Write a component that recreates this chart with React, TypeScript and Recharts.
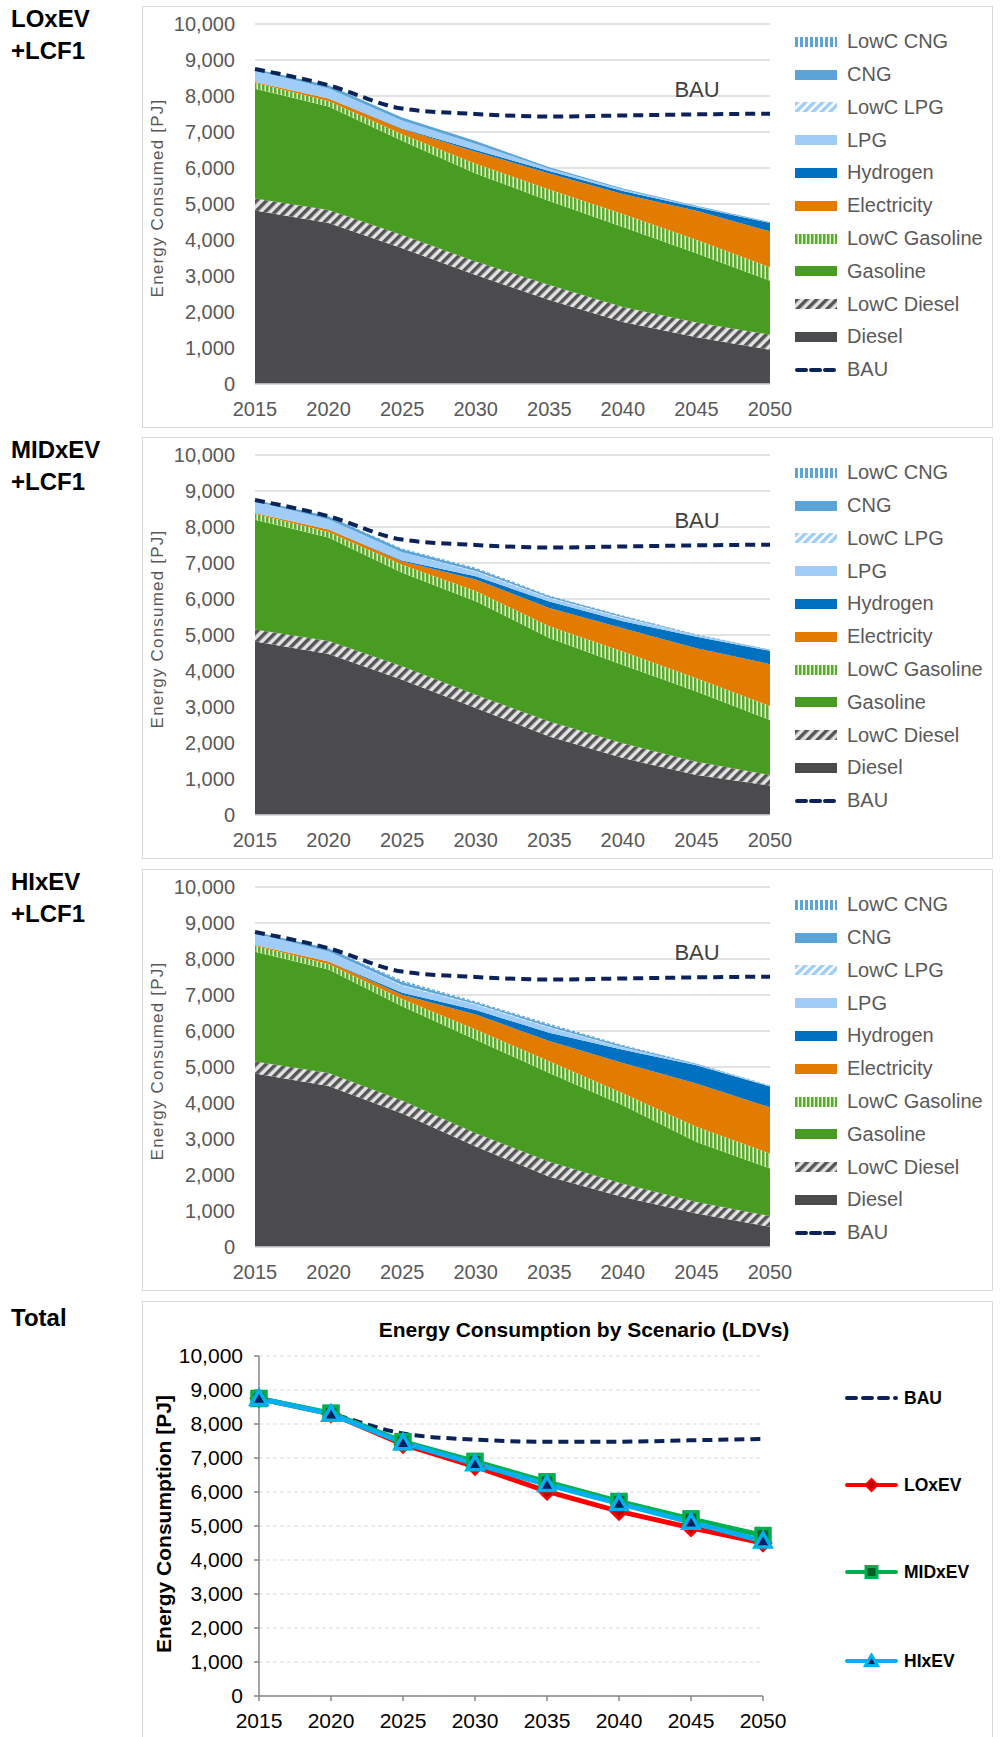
import { ComposedChart, LineChart, Line, Area, XAxis, YAxis, CartesianGrid } from "recharts";

const years = ["2015", "2020", "2025", "2030", "2035", "2040", "2045", "2050"];
const yTicks = [0, 1000, 2000, 3000, 4000, 5000, 6000, 7000, 8000, 9000, 10000];

const bau = [8750, 8300, 7650, 7500, 7430, 7460, 7490, 7510];

// LOxEV +LCF1
const loDiesel = [4820, 4470, 3770, 3030, 2330, 1720, 1300, 950];
const loLowcDiesel = [330, 360, 370, 370, 420, 420, 410, 420];
const loGasoline = [3050, 2880, 2620, 2450, 2330, 2220, 1920, 1500];
const loLowcGasoline = [170, 150, 180, 270, 320, 360, 380, 370];
const loElectricity = [20, 70, 140, 330, 450, 560, 800, 1000];
const loHydrogen = [0, 0, 20, 50, 70, 80, 100, 230];
const loLpg = [320, 280, 220, 170, 60, 40, 20, 10];
const loLowcLpg = [0, 0, 0, 0, 0, 0, 0, 0];
const loCng = [40, 90, 80, 80, 40, 30, 20, 20];
const loLowcCng = [0, 0, 0, 0, 0, 0, 0, 0];

// MIDxEV +LCF1
const midDiesel = [4820, 4470, 3760, 2970, 2180, 1580, 1110, 820];
const midLowcDiesel = [330, 360, 370, 370, 420, 410, 370, 290];
const midGasoline = [3050, 2880, 2600, 2600, 2320, 2180, 1950, 1530];
const midLowcGasoline = [170, 150, 220, 280, 320, 370, 370, 390];
const midElectricity = [20, 70, 100, 320, 510, 650, 830, 1160];
const midHydrogen = [0, 0, 20, 90, 180, 190, 320, 370];
const midLpg = [320, 280, 230, 130, 90, 90, 40, 20];
const midLowcLpg = [0, 0, 0, 20, 20, 20, 0, 0];
const midCng = [40, 90, 80, 60, 40, 40, 20, 10];
const midLowcCng = [0, 0, 20, 30, 20, 10, 10, 10];

// HIxEV +LCF1
const hiDiesel = [4820, 4470, 3710, 2790, 1950, 1390, 930, 560];
const hiLowcDiesel = [330, 360, 360, 370, 420, 370, 320, 300];
const hiGasoline = [3050, 2880, 2620, 2600, 2460, 2180, 1670, 1320];
const hiLowcGasoline = [170, 150, 200, 280, 330, 330, 420, 420];
const hiElectricity = [20, 70, 120, 420, 560, 840, 1200, 1280];
const hiHydrogen = [0, 0, 50, 120, 230, 370, 510, 580];
const hiLpg = [320, 280, 200, 150, 140, 60, 20, 10];
const hiLowcLpg = [0, 0, 20, 20, 20, 10, 0, 0];
const hiCng = [40, 90, 80, 40, 60, 40, 20, 10];
const hiLowcCng = [0, 0, 40, 30, 30, 20, 10, 10];

// Total by scenario
const totBau = [8750, 8300, 7720, 7540, 7480, 7480, 7520, 7560];
const totLo = [8750, 8300, 7400, 6750, 6020, 5430, 4950, 4500];
const totMid = [8750, 8320, 7480, 6900, 6300, 5720, 5210, 4720];
const totHi = [8750, 8290, 7450, 6830, 6220, 5660, 5110, 4560];

const FONT = "'Liberation Sans', Arial, sans-serif";

const fuels = [
  { key: "diesel", name: "Diesel", fill: "#4b4b4d", pat: null },
  { key: "lowcDiesel", name: "LowC Diesel", fill: "#4b4b4d", pat: "hatch" },
  { key: "gasoline", name: "Gasoline", fill: "#489c22", pat: null },
  { key: "lowcGasoline", name: "LowC Gasoline", fill: "#489c22", pat: "gstripe" },
  { key: "electricity", name: "Electricity", fill: "#e27c00", pat: null },
  { key: "hydrogen", name: "Hydrogen", fill: "#0070c0", pat: null },
  { key: "lpg", name: "LPG", fill: "#9fcdf7", pat: null },
  { key: "lowcLpg", name: "LowC LPG", fill: "#9fcdf7", pat: "lpgstripe" },
  { key: "cng", name: "CNG", fill: "#5ba4d8", pat: null },
  { key: "lowcCng", name: "LowC CNG", fill: "#5ba4d8", pat: "cngstripe" },
];

function buildRows(d: number[][]) {
  return years.map((year, i) => ({
    year,
    diesel: d[0][i],
    lowcDiesel: d[1][i],
    gasoline: d[2][i],
    lowcGasoline: d[3][i],
    electricity: d[4][i],
    hydrogen: d[5][i],
    lpg: d[6][i],
    lowcLpg: d[7][i],
    cng: d[8][i],
    lowcCng: d[9][i],
    bau: bau[i],
  }));
}

const loRows = buildRows([loDiesel, loLowcDiesel, loGasoline, loLowcGasoline, loElectricity, loHydrogen, loLpg, loLowcLpg, loCng, loLowcCng]);
const midRows = buildRows([midDiesel, midLowcDiesel, midGasoline, midLowcGasoline, midElectricity, midHydrogen, midLpg, midLowcLpg, midCng, midLowcCng]);
const hiRows = buildRows([hiDiesel, hiLowcDiesel, hiGasoline, hiLowcGasoline, hiElectricity, hiHydrogen, hiLpg, hiLowcLpg, hiCng, hiLowcCng]);

const totRows = years.map((year, i) => ({ year, bau: totBau[i], lo: totLo[i], mid: totMid[i], hi: totHi[i] }));

const fmt = (v: number) => v.toLocaleString("en-US");

function patterns(pid: string) {
  return [
    <pattern key="h" id={`${pid}-hatch`} width={7} height={7} patternUnits="userSpaceOnUse" patternTransform="rotate(45)">
      <rect width={7} height={7} fill="#e3e3e3" />
      <rect width={3.5} height={7} fill="#555557" />
    </pattern>,
    <pattern key="g" id={`${pid}-gstripe`} width={4} height={4} patternUnits="userSpaceOnUse">
      <rect width={4} height={4} fill="#5aab2e" />
      <rect x={2.5} width={1.5} height={4} fill="#e4f2d8" />
    </pattern>,
    <pattern key="l" id={`${pid}-lpgstripe`} width={6} height={6} patternUnits="userSpaceOnUse" patternTransform="rotate(45)">
      <rect width={6} height={6} fill="#ffffff" />
      <rect width={3.5} height={6} fill="#9fcdf7" />
    </pattern>,
    <pattern key="c" id={`${pid}-cngstripe`} width={5} height={5} patternUnits="userSpaceOnUse">
      <rect width={5} height={5} fill="#ffffff" />
      <rect width={3} height={5} fill="#5ba4d8" />
    </pattern>,
  ];
}

function fillOf(f: { fill: string; pat: string | null }, pid: string) {
  return f.pat ? `url(#${pid}-${f.pat})` : f.fill;
}

function StackLegend({ top, pid }: { top: number; pid: string }) {
  const items = [...fuels].reverse();
  return (
    <>
      {items.map((f, i) => (
        <div
          key={f.key}
          style={{ position: "absolute", left: 795, top: top + 35.7 + i * 32.8 - 11, height: 22, display: "flex", alignItems: "center" }}
        >
          <svg width={42} height={10}>
            <defs>{patterns(`${pid}lg`)}</defs>
            <rect width={42} height={10} fill={fillOf(f, `${pid}lg`)} />
          </svg>
          <span style={{ marginLeft: 10, fontSize: 20, color: "#595959", fontFamily: FONT }}>{f.name}</span>
        </div>
      ))}
      <div style={{ position: "absolute", left: 795, top: top + 35.7 + 10 * 32.8 - 11, height: 22, display: "flex", alignItems: "center" }}>
        <svg width={42} height={10}>
          <line x1={2} y1={5} x2={40} y2={5} stroke="#0b2358" strokeWidth={4} strokeDasharray="9 5" strokeLinecap="round" />
        </svg>
        <span style={{ marginLeft: 10, fontSize: 20, color: "#595959", fontFamily: FONT }}>BAU</span>
      </div>
    </>
  );
}

function StackPanel({ top, title, rows, pid }: { top: number; title: string; rows: any[]; pid: string }) {
  return (
    <>
      <div style={{ position: "absolute", left: 142, top, width: 851, height: 422, border: "1px solid #d9d9d9", boxSizing: "border-box", background: "#fff" }} />
      <div style={{ position: "absolute", left: 11, top: top - 3, fontFamily: FONT, fontWeight: 700, fontSize: 24, lineHeight: "32px", color: "#000" }}>
        {title}
        <br />
        +LCF1
      </div>
      <div style={{ position: "absolute", left: 142, top }}>
        <ComposedChart width={851} height={422} data={rows} margin={{ top: 18, right: 223, bottom: 0, left: 0 }}>
          <defs>{patterns(pid)}</defs>
          <CartesianGrid vertical={false} stroke="#d9d9d9" strokeWidth={1.5} />
          <XAxis
            dataKey="year"
            interval={0}
            height={44}
            tickLine={false}
            tickMargin={12}
            axisLine={{ stroke: "#d9d9d9", strokeWidth: 1.5 }}
            tick={{ fill: "#595959", fontSize: 20, fontFamily: FONT }}
          />
          <YAxis
            domain={[0, 10000]}
            ticks={yTicks}
            width={113}
            tickLine={false}
            axisLine={false}
            tickMargin={14}
            tickFormatter={fmt}
            tick={{ fill: "#595959", fontSize: 20, fontFamily: FONT }}
            label={{
              value: "Energy Consumed [PJ]",
              angle: -90,
              position: "insideLeft",
              offset: 15,
              dy: -6,
              style: { textAnchor: "middle", fill: "#595959", fontSize: 17, fontFamily: FONT, letterSpacing: 1.2 },
            }}
          />
          {fuels.map((f) => (
            <Area
              key={f.key}
              type="linear"
              dataKey={f.key}
              name={f.name}
              stackId="1"
              stroke="none"
              fill={fillOf(f, pid)}
              fillOpacity={1}
              isAnimationActive={false}
            />
          ))}
          <Line
            type="monotone"
            dataKey="bau"
            name="BAU"
            stroke="#0b2358"
            strokeWidth={4}
            strokeDasharray="10 6"
            dot={false}
            isAnimationActive={false}
          />
        </ComposedChart>
      </div>
      <div style={{ position: "absolute", left: 697, top: top + 84, transform: "translate(-50%, -50%)", fontFamily: FONT, fontSize: 22, color: "#404040" }}>
        BAU
      </div>
      <StackLegend top={top} pid={pid} />
    </>
  );
}

const diamondDot = (p: any) => (
  <path
    key={`d${p.index}`}
    d={`M${p.cx},${p.cy - 8} L${p.cx + 8},${p.cy} L${p.cx},${p.cy + 8} L${p.cx - 8},${p.cy} Z`}
    fill="#c00000"
    stroke="#ff0000"
    strokeWidth={2.5}
  />
);
const squareDot = (p: any) => (
  <rect key={`s${p.index}`} x={p.cx - 7} y={p.cy - 7} width={14} height={14} fill="#00602b" stroke="#00b050" strokeWidth={3.5} />
);
const triangleDot = (p: any) => (
  <path
    key={`t${p.index}`}
    d={`M${p.cx},${p.cy - 8} L${p.cx + 8},${p.cy + 6} L${p.cx - 8},${p.cy + 6} Z`}
    fill="#002060"
    stroke="#00b0f0"
    strokeWidth={3.5}
  />
);

const totLegend = [
  { name: "BAU", color: "#0b2358", marker: "none" },
  { name: "LOxEV", color: "#ff0000", marker: "diamond" },
  { name: "MIDxEV", color: "#00b050", marker: "square" },
  { name: "HIxEV", color: "#00b0f0", marker: "triangle" },
];
const totLegendY = [1398, 1485, 1572, 1661];

function TotalPanel() {
  return (
    <>
      <div style={{ position: "absolute", left: 142, top: 1301, width: 851, height: 440, border: "1px solid #d9d9d9", boxSizing: "border-box", background: "#fff" }} />
      <div style={{ position: "absolute", left: 11, top: 1302, fontFamily: FONT, fontWeight: 700, fontSize: 24, lineHeight: "32px" }}>Total</div>
      <div style={{ position: "absolute", left: 584, top: 1330, transform: "translate(-50%, -50%)", whiteSpace: "nowrap", fontFamily: FONT, fontWeight: 700, fontSize: 21, color: "#000" }}>
        Energy Consumption by Scenario (LDVs)
      </div>
      <div style={{ position: "absolute", left: 142, top: 1301 }}>
        <LineChart width={851} height={436} data={totRows} margin={{ top: 55, right: 230, bottom: 0, left: 0 }}>
          <CartesianGrid vertical={false} stroke="#d9d9d9" strokeDasharray="4 3" />
          <XAxis
            dataKey="year"
            interval={0}
            height={41}
            tickSize={5}
            tickMargin={12}
            axisLine={{ stroke: "#868686", strokeWidth: 1.5 }}
            tickLine={{ stroke: "#868686", strokeWidth: 1.5 }}
            tick={{ fill: "#000", fontSize: 21, fontFamily: FONT }}
          />
          <YAxis
            domain={[0, 10000]}
            ticks={yTicks}
            width={117}
            tickSize={5}
            tickMargin={11}
            tickFormatter={fmt}
            axisLine={{ stroke: "#868686", strokeWidth: 1.5 }}
            tickLine={{ stroke: "#868686", strokeWidth: 1.5 }}
            tick={{ fill: "#000", fontSize: 21, fontFamily: FONT }}
            label={{
              value: "Energy Consumption [PJ]",
              angle: -90,
              position: "insideLeft",
              offset: 22,
              dy: -2,
              style: { textAnchor: "middle", fill: "#000", fontSize: 21, fontWeight: 700, fontFamily: FONT },
            }}
          />
          <Line type="monotone" dataKey="bau" name="BAU" stroke="#0b2358" strokeWidth={4} strokeDasharray="10 6" dot={false} isAnimationActive={false} />
          <Line type="linear" dataKey="lo" name="LOxEV" stroke="#ff0000" strokeWidth={5} dot={diamondDot} isAnimationActive={false} />
          <Line type="linear" dataKey="mid" name="MIDxEV" stroke="#00b050" strokeWidth={5} dot={squareDot} isAnimationActive={false} />
          <Line type="linear" dataKey="hi" name="HIxEV" stroke="#00b0f0" strokeWidth={5} dot={triangleDot} isAnimationActive={false} />
        </LineChart>
      </div>
      {totLegend.map((it, i) => (
        <div key={it.name} style={{ position: "absolute", left: 845, top: totLegendY[i] - 10, height: 20, display: "flex", alignItems: "center" }}>
          <svg width={53} height={16}>
            <line
              x1={2}
              y1={8}
              x2={51}
              y2={8}
              stroke={it.color}
              strokeWidth={4}
              strokeLinecap="round"
              strokeDasharray={it.marker === "none" ? "9 7" : undefined}
            />
            {it.marker === "diamond" && <path d="M26.5,2 L32.5,8 L26.5,14 L20.5,8 Z" fill="#c00000" stroke="#ff0000" strokeWidth={2} />}
            {it.marker === "square" && <rect x={21} y={2.5} width={11} height={11} fill="#00602b" stroke="#00b050" strokeWidth={3} />}
            {it.marker === "triangle" && <path d="M26.5,2 L32.5,12.5 L20.5,12.5 Z" fill="#002060" stroke="#00b0f0" strokeWidth={3} />}
          </svg>
          <span style={{ marginLeft: 6, fontSize: 17.5, fontWeight: 700, color: "#000", fontFamily: FONT }}>{it.name}</span>
        </div>
      ))}
    </>
  );
}

export default function App() {
  return (
    <div style={{ position: "absolute", left: 0, top: 0, width: 1000, height: 1737, background: "#fff", overflow: "hidden", fontFamily: FONT }}>
      <StackPanel top={6} title="LOxEV" rows={loRows} pid="p1" />
      <StackPanel top={437} title="MIDxEV" rows={midRows} pid="p2" />
      <StackPanel top={869} title="HIxEV" rows={hiRows} pid="p3" />
      <TotalPanel />
    </div>
  );
}
